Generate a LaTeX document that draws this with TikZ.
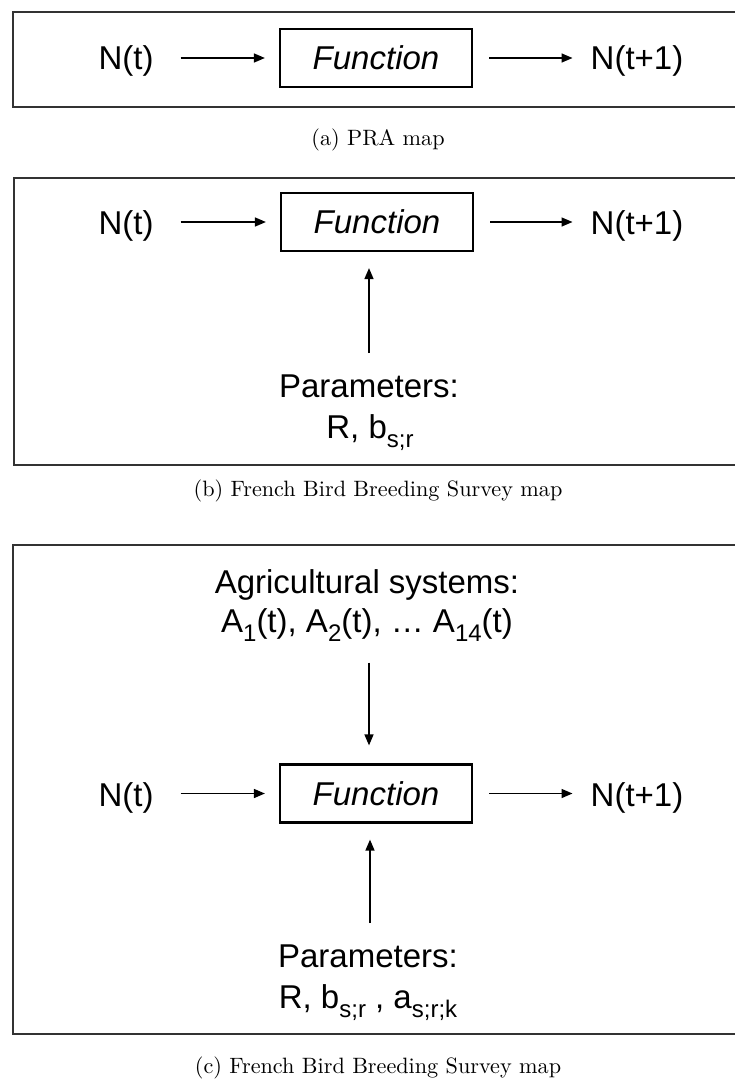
\documentclass[tikz,border=0pt]{standalone}
\usepackage{fontspec}
\newfontfamily\arialfont{Liberation Sans}
\usetikzlibrary{arrows.meta}

% lowered, smaller text for indices
\newcommand\subtx[1]{\raisebox{-9.5pt}{\fontsize{24}{24}\selectfont #1}}

\tikzset{
  panel/.style={draw=black!80, line width=1.6pt},
  fnbox/.style={draw, line width=2.2pt, minimum width=192pt, minimum height=58pt,
    inner sep=0pt, font=\arialfont\itshape\fontsize{33}{40}\selectfont,
    text height=23.5pt, text depth=0pt},
  lbl/.style={font=\arialfont\fontsize{33}{40}\selectfont, inner sep=0pt, anchor=base},
  captiontext/.style={scale=2.22, inner sep=0pt, font=\fontsize{10}{12}\selectfont},
  flow/.style={-{Triangle[length=11pt,width=9pt]}, line width=1.5pt},
}

\begin{document}
\begin{tikzpicture}[x=1pt,y=-1pt]
\useasboundingbox (0,0) rectangle (735,1081);
\clip (0,0) rectangle (735,1081);

% ---------- (a) ----------
\draw[panel] (13,12) rectangle (760,107);
\node[fnbox] (fa) at (376,58) {Function};
\node[lbl] (na) at (126,70) {N(t)};
\node[lbl] (ma) at (637,70) {N(t+1)};
\draw[flow, shorten <=27pt, shorten >=14pt] (na.east |- fa.west) -- (fa.west);
\draw[flow, shorten <=16pt, shorten >=18pt] (fa.east) -- (ma.west |- fa.east);
\node[captiontext] (capa) at (378,140) {(a) PRA map};

% ---------- (b) ----------
\draw[panel] (14,178) rectangle (760,465);
\node[fnbox] (fb) at (377,222) {Function};
\node[lbl] (nb) at (126,234) {N(t)};
\node[lbl] (mb) at (637,234) {N(t+1)};
\node[lbl] (pb1) at (369,397) {Parameters:};
\node[lbl] (pb2) at (370,438) {R, b\subtx{s;r}};
\draw[flow, shorten <=27pt, shorten >=14pt] (nb.east |- fb.west) -- (fb.west);
\draw[flow, shorten <=16pt, shorten >=18pt] (fb.east) -- (mb.west |- fb.east);
\draw[flow, shorten <=21pt, shorten >=16pt] (pb1.north) -- (pb1.north |- fb.south);
\node[captiontext] (capb) at (378,491) {(b) French Bird Breeding Survey map};

% ---------- (c) ----------
\draw[panel] (13,545) rectangle (760,1034);
\node[lbl] (ac1) at (367,593) {Agricultural systems:};
\node[lbl] (ac2) at (367,632) {A\subtx{1}(t), A\subtx{2}(t), … A\subtx{14}(t)};
\node[fnbox] (fc) at (376,793.5) {Function};
\node[lbl] (nc) at (126,806) {N(t)};
\node[lbl] (mc) at (637,806) {N(t+1)};
\node[lbl] (pc1) at (368,967) {Parameters:};
\node[lbl] (pc2) at (368,1008) {R, b\subtx{s;r} , a\subtx{s;r;k}};
\draw[flow, shorten <=21pt, shorten >=18pt] ([xshift=2pt]ac2.south) -- ([xshift=2pt]ac2.south |- fc.north);
\draw[flow, shorten <=27pt, shorten >=14pt] (nc.east |- fc.west) -- (fc.west);
\draw[flow, shorten <=16pt, shorten >=18pt] (fc.east) -- (mc.west |- fc.east);
\draw[flow, shorten <=21pt, shorten >=16pt] ([xshift=2pt]pc1.north) -- ([xshift=2pt]pc1.north |- fc.south);
\node[captiontext] (capc) at (378,1068) {(c) French Bird Breeding Survey map};
\end{tikzpicture}
\end{document}
